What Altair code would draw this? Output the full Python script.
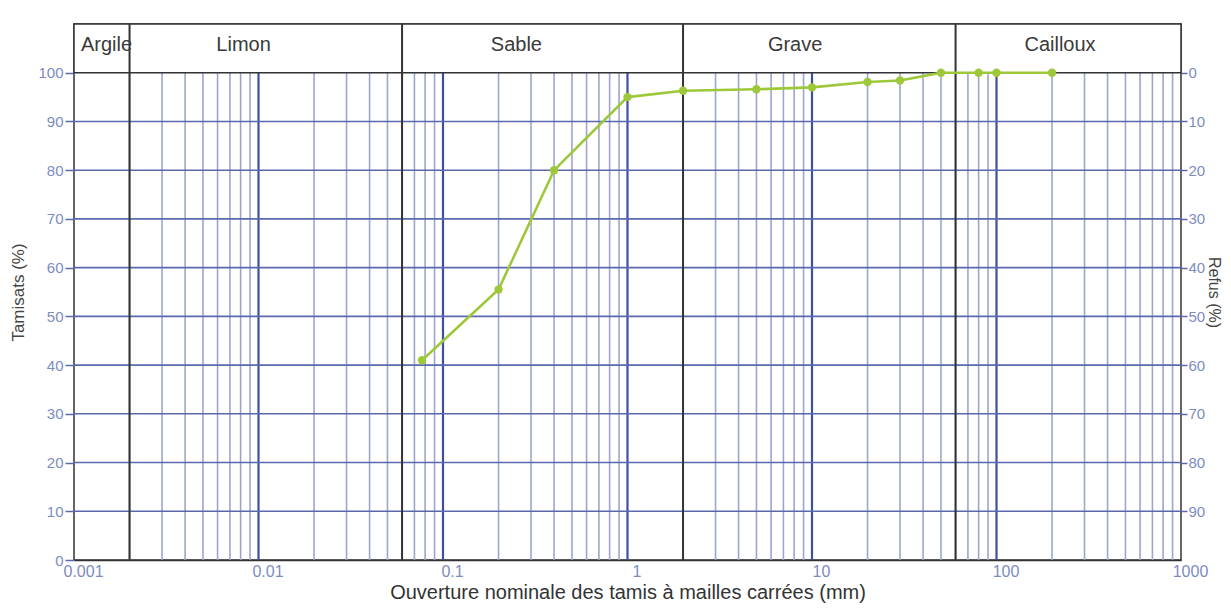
import altair as alt
import pandas as pd

# Particle size curve (sieve opening in mm vs % passing)
sizes = [0.077, 0.2, 0.4, 1, 2, 5, 10, 20, 30, 50, 80, 100, 200]
passing = [41, 55.5, 80, 95, 96.3, 96.6, 97, 98.1, 98.4, 100, 100, 100, 100]

# Soil classes band
class_names = ["Argile", "Limon", "Sable", "Grave", "Cailloux"]
class_bounds = [0.001, 0.002, 0.06, 2, 60, 1000]
class_label_x = [0.0015, 0.0083, 0.25, 8.1, 221]

# Axis ticks
x_ticks = [0.001, 0.01, 0.1, 1, 10, 100, 1000]
decades = [0.01, 0.1, 1, 10, 100]
minor_mult = [2, 3, 4, 5, 6, 7, 8, 9]
y_ticks = [0, 10, 20, 30, 40, 50, 60, 70, 80, 90, 100]
y_grid = [10, 20, 30, 40, 50, 60, 70, 80, 90]
refus_ticks = [10, 20, 30, 40, 50, 60, 70, 80, 90, 100]

FONT = "Liberation Sans"
XS = alt.Scale(type="log", domain=[0.001, 1000], nice=False)
YS = alt.Scale(domain=[0, 110], nice=False, zero=False)

XAX = alt.Axis(
    values=x_ticks, format="~g", title="Ouverture nominale des tamis à mailles carrées (mm)",
    titleFont=FONT, titleFontSize=20, titleFontWeight="normal", titleColor="#333333",
    titlePadding=3, labelFont=FONT, labelFontSize=16, labelColor="#7d8cc0",
    labelFlush=False, labelOffset=9, labelPadding=3, ticks=False,
    domainColor="#333333", domainWidth=1.5, grid=False)

minor_vals = [m * d for d in [0.001] + decades for m in minor_mult]
minor_df = pd.DataFrame({"x": minor_vals, "y0": 0, "y1": 100})
decade_df = pd.DataFrame({"x": decades, "y0": 0, "y1": 100})
hgrid_df = pd.DataFrame({"y": y_grid, "x0": 0.001, "x1": 1000})
band_df = pd.DataFrame({"x0": [0.001], "x1": [1000], "y0": [100], "y1": [110]})
bound_df = pd.DataFrame({"x": class_bounds[1:-1], "y0": 0, "y1": 110})
label_df = pd.DataFrame({"x": class_label_x, "y": 105.7, "name": class_names})
curve_df = pd.DataFrame({"size": sizes, "pass": passing})

minor = alt.Chart(minor_df).mark_rule(color="#9ca6cd", strokeWidth=1.6).encode(
    x=alt.X("x:Q", scale=XS, axis=XAX),
    y=alt.Y("y0:Q", scale=YS, axis=None), y2="y1:Q")

decade = alt.Chart(decade_df).mark_rule(color="#3f4f9f", strokeWidth=2.2).encode(
    x=alt.X("x:Q", scale=XS, axis=XAX),
    y=alt.Y("y0:Q", scale=YS, axis=None), y2="y1:Q")

hgrid = alt.Chart(hgrid_df).mark_rule(color="#5a69ae", strokeWidth=1.6).encode(
    x=alt.X("x0:Q", scale=XS, axis=XAX), x2="x1:Q",
    y=alt.Y("y:Q", scale=YS, axis=alt.Axis(
        orient="right", values=refus_ticks, labelExpr="100 - datum.value",
        title="Refus (%)", titleFont=FONT, titleFontSize=16, titleFontWeight="normal",
        titleColor="#444444", titlePadding=1, labelFont=FONT, labelFontSize=15,
        labelColor="#7d8cc0", tickColor="#5a69ae", tickSize=6, tickWidth=1.5,
        labelPadding=1, domain=False, grid=False)))

band = alt.Chart(band_df).mark_rect(fill="white", stroke="#333333", strokeWidth=1.5).encode(
    x=alt.X("x0:Q", scale=XS, axis=XAX), x2="x1:Q",
    y=alt.Y("y0:Q", scale=YS, axis=None), y2="y1:Q")

bounds = alt.Chart(bound_df).mark_rule(color="#333333", strokeWidth=2).encode(
    x=alt.X("x:Q", scale=XS, axis=XAX),
    y=alt.Y("y0:Q", scale=YS, axis=None), y2="y1:Q")

labels = alt.Chart(label_df).mark_text(font=FONT, fontSize=20, color="#3a3a3a",
                                        baseline="middle", align="center").encode(
    x=alt.X("x:Q", scale=XS, axis=XAX),
    y=alt.Y("y:Q", scale=YS, axis=None),
    text="name:N")

line = alt.Chart(curve_df).mark_line(color="#9dc83a", strokeWidth=2.6).encode(
    x=alt.X("size:Q", scale=XS, axis=XAX),
    y=alt.Y("pass:Q", scale=YS, axis=alt.Axis(
        orient="left", values=y_ticks, title="Tamisats (%)", titleFont=FONT,
        titleFontSize=17, titleFontWeight="normal", titleColor="#444444", titlePadding=10,
        labelFont=FONT, labelFontSize=15, labelColor="#7d8cc0", tickColor="#5a69ae",
        tickSize=9, tickWidth=1.5, labelPadding=2, domain=False, grid=False)))

points = alt.Chart(curve_df).mark_point(filled=True, color="#9dc83a", size=70, opacity=1).encode(
    x=alt.X("size:Q", scale=XS, axis=XAX),
    y=alt.Y("pass:Q", scale=YS, axis=None))

chart = alt.layer(minor, decade, hgrid, band, bounds, labels, line, points).resolve_scale(
    y="independent"
).properties(
    width=1107, height=536,
    autosize=alt.AutoSizeParams(type="none"),
    padding={"left": 66, "top": 16, "right": 42, "bottom": 48},
).configure_view(stroke="#333333", strokeWidth=1.5)

chart.save("out.html", embed_options={"renderer": "svg", "actions": False})
